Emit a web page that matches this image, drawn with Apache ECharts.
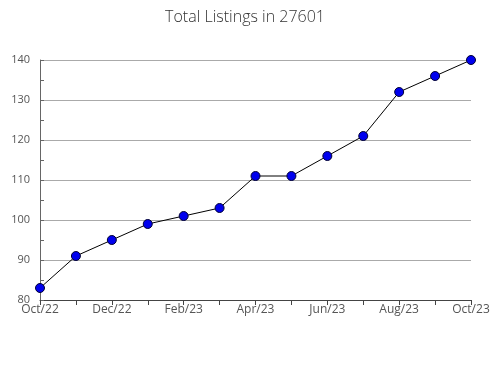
<!DOCTYPE html>
<html><head><meta charset="utf-8">
<script src="https://cdn.jsdelivr.net/npm/echarts@6/dist/echarts.min.js"></script>
<style>html,body{margin:0;padding:0;background:#fff}#c{width:490px;height:380px}</style>
</head><body><div id="c"></div>
<script>
const categories = ['Oct/22','Nov/22','Dec/22','Jan/23','Feb/23','Mar/23','Apr/23','May/23','Jun/23','Jul/23','Aug/23','Sep/23','Oct/23'];
const values = [83, 91, 95, 99, 101, 103, 111, 111, 116, 121, 132, 136, 140];
const yMin = 80, yMax = 140, yStep = 10;
const chart = echarts.init(document.getElementById('c'));
chart.setOption({
  animation: false,
  title: { text: 'Total Listings in 27601', left: 'center', top: 4,
    textStyle: { fontFamily: 'Open Sans', fontWeight: 300, fontSize: 16, color: '#333' } },
  grid: { left: 40, right: 19, top: 60, bottom: 80, containLabel: false, outerBoundsMode: 'none' },
  xAxis: {
    type: 'category', data: categories, boundaryGap: false,
    axisLine: { lineStyle: { color: '#444', width: 1 } },
    axisTick: { show: true, length: 5, lineStyle: { color: '#444' }, interval: 0 },
    axisLabel: { interval: 1, fontFamily: 'Open Sans', fontSize: 12, color: '#555', margin: 4 }
  },
  yAxis: {
    type: 'value', min: yMin, max: yMax, interval: yStep,
    axisLine: { show: true, lineStyle: { color: '#666' } },
    axisTick: { show: true, inside: true, length: 4, lineStyle: { color: '#666' } },
    minorTick: { show: true, splitNumber: 2, length: 4, lineStyle: { color: '#666' } },
    splitLine: { show: true, lineStyle: { color: '#aaa', width: 1 } },
    axisLabel: { fontFamily: 'Open Sans', fontSize: 11, color: '#555', margin: 10 }
  },
  series: [{
    type: 'line', data: values,
    lineStyle: { color: '#000', width: 1 },
    symbol: 'circle', symbolSize: 9,
    itemStyle: { color: '#0000ee', borderColor: '#000033', borderWidth: 1 }
  }]
});
</script></body></html>
